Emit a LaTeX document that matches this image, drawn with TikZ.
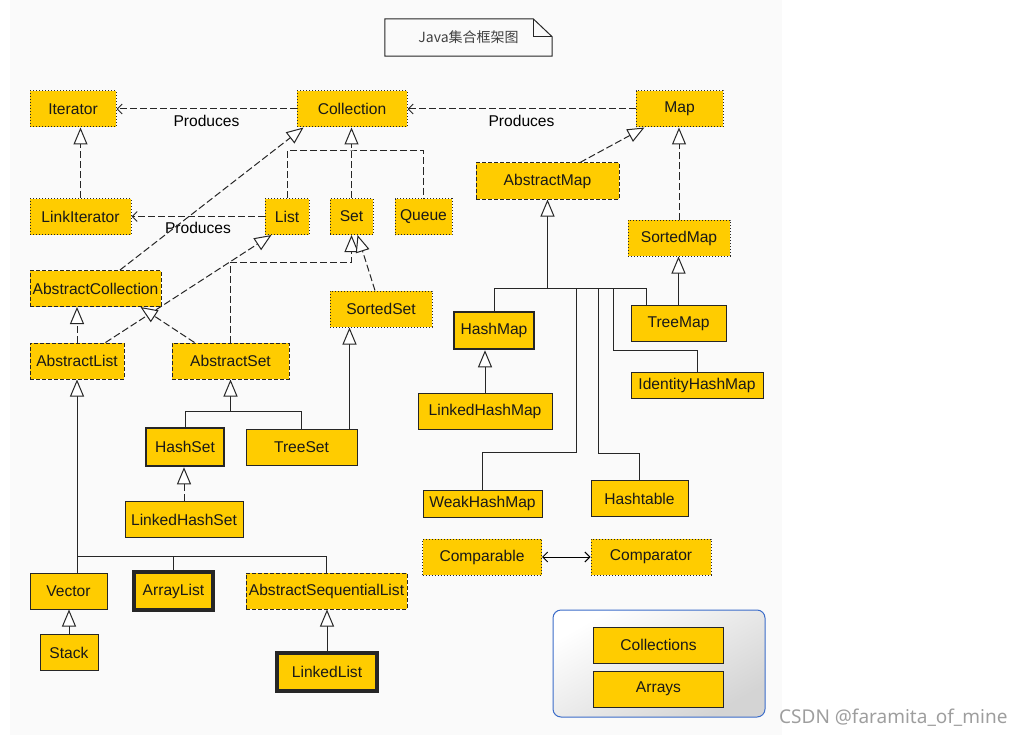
\documentclass[tikz,border=0pt]{standalone}
\usepackage{fontspec}
\setmainfont{Liberation Sans}
\newfontfamily\cjkfont{Noto Sans CJK SC}
\newfontfamily\wmfont{Noto Sans}
\usepackage{xcolor}
\usepackage{tikz}
\usetikzlibrary{arrows.meta,calc}
\definecolor{boxgold}{HTML}{FFCC00}
\definecolor{bggray}{HTML}{FAFAFA}
\definecolor{utilblue}{HTML}{3B6CC9}

\begin{document}
\begin{tikzpicture}[x=1pt,y=-1pt,font=\fontsize{15.6}{18}\selectfont,
  box/.style={fill=boxgold,draw=black!85,line width=1pt,inner sep=0pt,minimum height=36pt,text=black!90},
  iface/.style={box,dash pattern=on 1pt off 2pt},
  abstr/.style={box,dash pattern=on 4pt off 2pt},
  core/.style={box,line width=2.5pt},
  dline/.style={draw=black!85,line width=1pt,dash pattern=on 7pt off 3pt},
  sline/.style={draw=black!85,line width=1pt},
  hollow/.tip={Triangle[fill=white,length=17pt,width=14pt]},
  barb/.tip={Straight Barb[length=5pt,width=10pt]}]
\useasboundingbox (0,0) rectangle (1024,738);
\fill[bggray] (10,0) rectangle (782,735);
\node[font=\cjkfont\fontsize{14}{16}\selectfont,text=black!75,minimum width=167pt,minimum height=37pt,inner sep=0pt] (title) at (468.5,37.5) {Java集合框架图};
\draw[line width=1pt,black!85] (title.north west) -- ([xshift=-19pt]title.north east) -- ([yshift=-18pt]title.north east) -- (title.south east) -- (title.south west) -- cycle;
\draw[line width=1pt,black!85] ([xshift=-19pt]title.north east) |- ([yshift=-18pt]title.north east);
\node[draw=utilblue,rounded corners=8pt,line width=1pt,top color=white,bottom color=black!17,shading angle=30,minimum width=212pt,minimum height=107pt] (util) at (659,663.5) {};
\foreach \n/\x/\y/\w/\lbl in {iter/73/109/86/Iterator,coll/352/109/110/Collection,map/679.5/109/87/Map,
  linkit/80.5/216.5/101/LinkIterator,list/287/216.5/44/List,set/351.5/216.5/43/Set,queue/423.5/216.5/57/Queue,
  sortmap/679/238/102/SortedMap,sortset/381/309/102/SortedSet,comparable/482/557/119/Comparable,comparator/651/557/120/Comparator}
  \node[iface,minimum width=\w pt] (\n) at (\x,\y) {\lbl};
\foreach \n/\x/\y/\w/\lbl in {absmap/547.5/181/143/AbstractMap,abscoll/95.5/288.5/131/AbstractCollection,
  abslist/77/361/94/AbstractList,absset/230.5/361/117/AbstractSet,absseq/326.5/591/161/AbstractSequentialList}
  \node[abstr,minimum width=\w pt] (\n) at (\x,\y) {\lbl};
\foreach \n/\x/\y/\w/\lbl in {treeset/301.5/447/111/TreeSet,lhset/184/519.5/118/LinkedHashSet,vector/68.5/591/77/Vector,
  stack/69/652.5/58/Stack,treemap/678.5/323.5/95/TreeMap,lhmap/485/411/134/LinkedHashMap,hashtable/639.5/498.5/97/Hashtable,
  collections/658.5/645/130/Collections,arrays/658.5/689/130/Arrays}
  \node[box,minimum width=\w pt] (\n) at (\x,\y) {\lbl};
\node[box,minimum width=132pt,minimum height=26pt] (idmap) at (697,385) {IdentityHashMap};
\node[box,minimum width=119pt,minimum height=27pt] (weakmap) at (482.5,503.5) {WeakHashMap};
\node[core,minimum width=78pt,minimum height=38pt] (hashset) at (185,447) {HashSet};
\node[core,minimum width=80pt,minimum height=37pt] (hashmap) at (494,330.5) {HashMap};
\node[core,line width=3.5pt,minimum width=79pt,minimum height=38pt] (arraylist) at (173.5,591) {ArrayList};
\node[core,line width=3.5pt,minimum width=100pt,minimum height=38pt] (linkedlist) at (327,672) {LinkedList};

\draw[dline,-{barb}] (coll) -- (iter) node[midway,below=2pt]{Produces};
\draw[dline,-{barb}] (map) -- (coll) node[midway,below=2pt]{Produces};
\draw[dline,-{barb}] (list) -- (linkit) node[midway,below=2pt]{Produces};
\draw[dline,-{hollow}] (linkit.north) -- (linkit.north |- iter.south);
\draw[dline] (list.north) |- ($(set.north)+(0,-47)$) -| (queue.north);
\draw[dline,-{hollow}] (set.north) -- (set.north |- coll.south);
\draw[dline,-{hollow}] ($(abscoll.north)+(24.5,0)$) -- ($(coll.south west)+(7,0)$);
\draw[dline,-{hollow}] ($(abslist.north east)+(-19,0)$) -- ($(list.south west)+(7,0)$);
\draw[dline,-{hollow}] ($(absset.north west)+(23,0)$) -- ($(abscoll.south east)+(-21,0)$);
\draw[dline,-{hollow}] (abslist.north) -- (abslist.north |- abscoll.south);
\draw[dline,-{hollow}] (absset.north) |- ($(set.south)+(0,27)$) -- (set.south);
\draw[dline,-{hollow}] ($(sortset.north)+(-6,0)$) -- ($(set.south)+(6,0)$);
\coordinate (tsup) at ($(treeset.north east)+(-8,0)$);
\draw[sline,-{hollow}] (tsup) -- (tsup |- sortset.south);
\coordinate (sbus) at ($(absset.south)+(0,32)$);
\draw[sline] (hashset.north) |- (sbus) -| (treeset.north);
\draw[sline,-{hollow}] (sbus) -- (absset.south);
\draw[dline,-{hollow}] (lhset.north) -- (lhset.north |- hashset.south);
\coordinate (lbus) at ($(abslist.south |- vector.north)+(0,-16)$);
\draw[sline,{hollow}-] (abslist.south) -- (abslist.south |- vector.north);
\draw[sline] (lbus) -| (arraylist.north);
\draw[sline] (lbus) -| (absseq.north);
\draw[sline,-{hollow}] (stack.north) -- (stack.north |- vector.south);
\draw[sline,-{hollow}] (linkedlist.north) -- (linkedlist.north |- absseq.south);
\draw[dline,-{hollow}] ($(absmap.north)+(32.5,0)$) -- ($(map.south west)+(9,0)$);
\draw[dline,-{hollow}] (sortmap.north) -- (sortmap.north |- map.south);
\draw[sline,-{hollow}] (treemap.north) -- (treemap.north |- sortmap.south);
\coordinate (mbus) at ($(absmap.south)+(0,89)$);
\draw[sline,{hollow}-] (absmap.south) -- (mbus);
\draw[sline] (hashmap.north) |- (mbus) -| ($(treemap.north west)+(16,0)$);
\draw[sline] ($(mbus)+(29,0)$) |- ($(weakmap.north)+(0,-37)$) -- (weakmap.north);
\draw[sline] ($(mbus)+(51,0)$) |- ($(hashtable.north)+(0,-27)$) -- (hashtable.north);
\draw[sline] ($(mbus)+(66,0)$) |- ($(idmap.north)+(0,-21)$) -- (idmap.north);
\draw[sline,-{hollow}] (lhmap.north) -- (lhmap.north |- hashmap.south);
\draw[sline,draw=black,{barb}-{barb}] (comparable) -- (comparator);
\node[font=\wmfont\fontsize{19}{22}\selectfont,text=black!38,anchor=west,inner sep=0pt] (wm) at (779,718) {CSDN @faramita\_of\_mine};
\end{tikzpicture}
\end{document}
